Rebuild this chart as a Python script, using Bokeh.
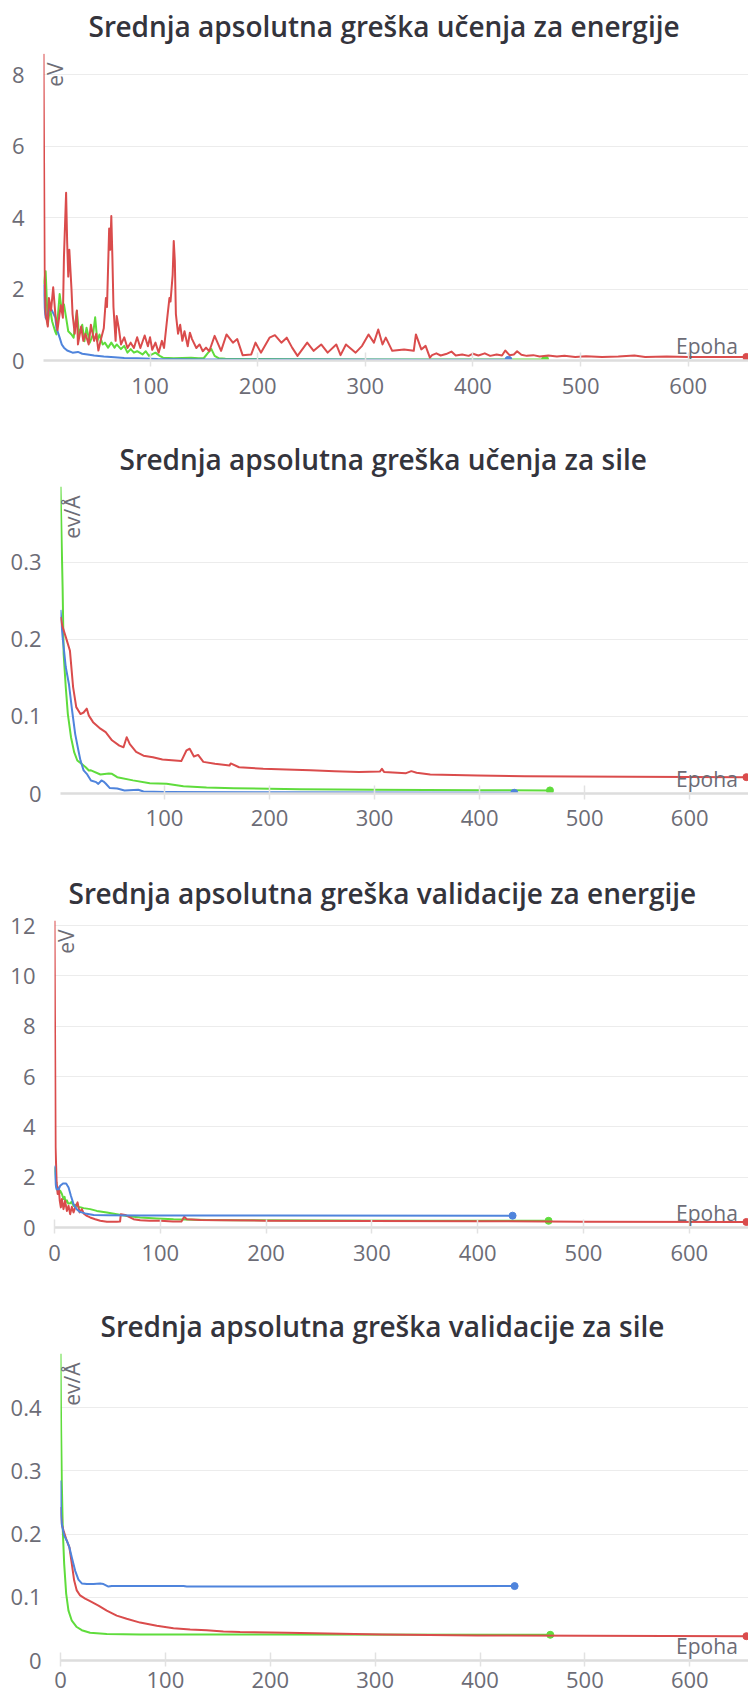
import math
from bokeh.plotting import figure
from bokeh.models import Range1d, FixedTicker, Label
from bokeh.embed import file_html
from bokeh.resources import INLINE

# ---------------- data ----------------
TITLES = [
    "Srednja apsolutna greška učenja za energije",
    "Srednja apsolutna greška učenja za sile",
    "Srednja apsolutna greška validacije za energije",
    "Srednja apsolutna greška validacije za sile",
]
UNITS = ["eV", "ev/Å", "eV", "ev/Å"]
X_TITLE = "Epoha"
X_TICKS = [0, 100, 200, 300, 400, 500, 600]
Y_TICKS_1 = [0, 2, 4, 6, 8]
Y_TICKS_2 = [0, 0.1, 0.2, 0.3]
Y_TICKS_3 = [0, 2, 4, 6, 8, 10, 12]
Y_TICKS_4 = [0, 0.1, 0.2, 0.3, 0.4]
Y_LABELS_1 = ["0", "2", "4", "6", "8"]
Y_LABELS_2 = ["0", "0.1", "0.2", "0.3"]
Y_LABELS_3 = ["0", "2", "4", "6", "8", "10", "12"]
Y_LABELS_4 = ["0", "0.1", "0.2", "0.3", "0.4"]

# chart 1: training energy MAE
c1_red_x = [1, 2, 3, 5, 6, 8, 10, 12, 14, 17, 19, 20, 22, 23, 24, 25, 27, 28, 30, 32, 33, 36, 38, 40, 43, 45, 48, 50, 52, 54,
            57, 59, 60, 62, 63, 64, 65, 66, 68, 69, 71, 73, 76, 79, 82, 85, 88, 91, 95, 98, 100, 102, 105, 108, 111, 113,
            116, 118, 119, 121, 122, 123, 124, 126, 128, 130, 132, 135, 137, 139, 143, 146, 149, 152, 155, 160, 166, 171,
            177, 181, 186, 194, 198, 203, 211, 216, 222, 227, 232, 237, 246, 252, 259, 265, 273, 277, 282, 291, 297, 303,
            308, 312, 316, 319, 325, 336, 345, 347, 352, 356, 360, 362, 366, 370, 375, 380, 384, 390, 396, 400, 405, 411,
            416, 422, 427, 430, 434, 438, 441, 445, 450, 456, 462, 470, 478, 485, 495, 505, 520, 535, 550, 560, 580, 600,
            620, 640, 654]
c1_red_y = [8.59, 2.5, 1.3, 0.95, 1.75, 1.4, 2.05, 1.3, 0.85, 1.55, 1.2, 2.9, 4.7, 3.3, 2.35, 3.1, 2.0, 1.3, 0.75, 1.4,
            0.45, 0.95, 0.55, 0.75, 0.45, 1.0, 0.55, 0.75, 0.28, 0.55, 0.9, 1.75, 1.5, 3.7, 3.1, 4.05, 2.9, 1.5, 0.55,
            1.25, 0.9, 0.45, 0.65, 0.35, 0.5, 0.35, 0.65, 0.35, 0.7, 0.4, 0.65, 0.3, 0.5, 0.22, 0.55, 0.35, 1.2, 1.75,
            1.65, 2.4, 3.35, 2.8, 1.3, 0.75, 1.0, 0.55, 0.82, 0.4, 0.78, 0.6, 0.35, 0.45, 0.26, 0.36, 0.26, 0.69, 0.27,
            0.73, 0.5, 0.6, 0.15, 0.17, 0.5, 0.22, 0.64, 0.71, 0.5, 0.64, 0.36, 0.13, 0.5, 0.27, 0.45, 0.22, 0.45, 0.15,
            0.45, 0.22, 0.41, 0.73, 0.5, 0.87, 0.45, 0.64, 0.27, 0.31, 0.27, 0.73, 0.31, 0.41, 0.08, 0.15, 0.2, 0.14,
            0.18, 0.25, 0.14, 0.17, 0.13, 0.19, 0.14, 0.2, 0.13, 0.17, 0.14, 0.28, 0.15, 0.17, 0.26, 0.16, 0.13, 0.15,
            0.11, 0.14, 0.11, 0.13, 0.1, 0.12, 0.1, 0.11, 0.14, 0.1, 0.11, 0.1, 0.1, 0.1, 0.1]
c1_green_x = [1, 3, 5, 7, 9, 12, 13, 16, 18, 20, 22, 24, 27, 29, 32, 34, 37, 39, 41, 44, 47, 49, 51, 53, 56, 58, 61, 64,
              67, 69, 73, 76, 79, 82, 85, 88, 93, 96, 99, 105, 109, 112, 122, 138, 145, 150, 154, 157, 160, 164, 170,
              200, 250, 300, 350, 400, 467]
c1_green_y = [2.14, 2.5, 1.0, 1.48, 1.1, 0.8, 0.73, 1.86, 1.4, 1.57, 1.2, 0.82, 0.73, 0.64, 1.39, 0.73, 1.0, 0.54, 0.92,
              0.5, 0.73, 1.21, 0.54, 0.73, 0.45, 0.5, 0.36, 0.5, 0.36, 0.45, 0.32, 0.41, 0.22, 0.32, 0.22, 0.26, 0.17,
              0.26, 0.13, 0.22, 0.13, 0.08, 0.06, 0.08, 0.06, 0.07, 0.22, 0.32, 0.13, 0.06, 0.05, 0.04, 0.035, 0.03,
              0.03, 0.03, 0.03]
c1_blue_x = [1, 2, 3, 4, 5, 7, 9, 12, 13, 16, 18, 20, 23, 28, 33, 37, 42, 48, 57, 67, 76, 88, 107, 150, 250, 350, 433]
c1_blue_y = [2.14, 1.48, 1.2, 1.15, 1.34, 1.48, 1.39, 1.2, 0.92, 0.64, 0.45, 0.36, 0.28, 0.22, 0.24, 0.19, 0.17, 0.14,
             0.11, 0.09, 0.07, 0.06, 0.04, 0.03, 0.025, 0.02, 0.02]

# chart 2: training forces MAE
c2_red_x = [1, 3, 6, 10, 13, 16, 20, 23, 26, 28, 32, 39, 44, 50, 57, 61, 64, 67, 73, 80, 89, 98, 107, 116, 121, 124,
            128, 132, 137, 148, 162, 163, 171, 194, 216, 239, 262, 285, 305, 307, 309, 330, 335, 340, 353, 398, 443,
            489, 654]
c2_red_y = [0.229, 0.216, 0.203, 0.185, 0.138, 0.112, 0.103, 0.105, 0.110, 0.101, 0.0925, 0.084, 0.0795, 0.069, 0.062,
            0.060, 0.073, 0.064, 0.054, 0.049, 0.047, 0.044, 0.043, 0.042, 0.056, 0.058, 0.048, 0.050, 0.041, 0.0385,
            0.0363, 0.039, 0.034, 0.032, 0.031, 0.030, 0.029, 0.028, 0.0285, 0.032, 0.028, 0.0264, 0.029, 0.027,
            0.0246, 0.0233, 0.0225, 0.022, 0.0212]
c2_green_x = [1, 3, 4, 6, 8, 11, 14, 17, 21, 25, 28, 30, 39, 47, 50, 55, 70, 86, 102, 118, 140, 166, 229, 299, 400, 467]
c2_green_y = [0.398, 0.268, 0.181, 0.138, 0.103, 0.073, 0.0536, 0.0428, 0.0385, 0.0341, 0.0298, 0.030, 0.0246, 0.026,
              0.0255, 0.0212, 0.017, 0.0134, 0.0125, 0.0095, 0.0078, 0.0069, 0.0056, 0.0047, 0.0042, 0.004]
c2_blue_x = [1, 3, 6, 9, 12, 15, 18, 20, 23, 26, 30, 35, 37, 40, 42, 44, 48, 55, 62, 75, 80, 100, 200, 433]
c2_blue_y = [0.238, 0.203, 0.164, 0.142, 0.108, 0.077, 0.056, 0.043, 0.030, 0.0255, 0.0169, 0.0147, 0.0125, 0.0169,
             0.0155, 0.013, 0.007, 0.0065, 0.004, 0.0048, 0.0026, 0.002, 0.0015, 0.001]

# chart 3: validation energy MAE
c3_red_x = [0, 1, 2, 3, 4, 5, 6, 7, 8.5, 10, 11.7, 13.3, 14.8, 16.4, 18, 19.6, 21.8, 23.7, 25.9, 27.5, 30.6, 33.7, 38.5,
            43.2, 49.5, 58.9, 62, 62.7, 66.8, 70, 74.7, 81, 90, 100, 112, 120, 122.6, 125, 138, 160, 200, 300, 400,
            500, 654]
c3_red_y = [12.2, 3.2, 1.8, 1.33, 1.59, 1.06, 0.8, 1.13, 0.73, 1.06, 0.66, 0.86, 0.53, 0.82, 0.6, 0.8, 1.0, 0.6, 0.73,
            0.56, 0.46, 0.4, 0.33, 0.27, 0.23, 0.23, 0.24, 0.53, 0.5, 0.43, 0.33, 0.29, 0.27, 0.27, 0.24, 0.24, 0.43,
            0.33, 0.3, 0.29, 0.27, 0.26, 0.25, 0.23, 0.22]
c3_green_x = [0, 1, 2, 4, 5.4, 7, 8.5, 9.5, 10.5, 11.7, 13, 14.8, 16, 18, 20, 22.7, 25, 27.5, 33.7, 40, 49.5, 58.9, 68.4,
              81, 96.7, 112.5, 144, 175.5, 250, 350, 467]
c3_green_y = [2.4, 2.06, 1.59, 1.33, 1.46, 1.33, 1.13, 1.22, 1.0, 1.08, 0.95, 0.96, 1.02, 0.86, 0.9, 0.82, 0.8, 0.77, 0.73,
              0.66, 0.6, 0.53, 0.46, 0.4, 0.36, 0.33, 0.3, 0.29, 0.28, 0.27, 0.266]
c3_blue_x = [0, 1, 2, 4, 5.4, 8, 11, 13.3, 15.5, 18, 21, 24, 29, 37, 50, 81, 200, 433]
c3_blue_y = [2.46, 1.72, 1.52, 1.52, 1.66, 1.75, 1.75, 1.59, 1.26, 0.93, 0.73, 0.62, 0.56, 0.5, 0.49, 0.48, 0.475, 0.47]

# chart 4: validation forces MAE
c4_red_x = [0, 1.2, 2.8, 5.9, 8.5, 10.8, 13, 15.5, 18.7, 23.5, 28.2, 36.2, 44.1, 53.6, 63.1, 75.9, 91.8, 107.7, 123.6,
            139.4, 155.3, 171.2, 215.5, 306.6, 397.7, 500, 654]
c4_red_y = [0.243, 0.216, 0.206, 0.19, 0.179, 0.153, 0.127, 0.111, 0.103, 0.098, 0.094, 0.087, 0.079, 0.071, 0.066, 0.06,
            0.055, 0.051, 0.049, 0.048, 0.046, 0.045, 0.044, 0.041, 0.0396, 0.039, 0.0385]
c4_green_x = [0, 0.6, 1.2, 2.2, 3.5, 5.4, 7.6, 10.8, 15.5, 20.3, 28.2, 44.1, 75.9, 190, 467]
c4_green_y = [0.486, 0.364, 0.285, 0.206, 0.153, 0.106, 0.079, 0.063, 0.053, 0.048, 0.044, 0.042, 0.041, 0.041, 0.0407]
c4_blue_x = [0, 0.6, 1.2, 3.5, 5.9, 8.5, 10.8, 14, 17.1, 20.3, 25.1, 31.5, 37.8, 41, 45.7, 48.9, 75.9, 117.3, 120.4, 190,
             433]
c4_blue_y = [0.285, 0.227, 0.216, 0.198, 0.19, 0.179, 0.163, 0.142, 0.128, 0.122, 0.121, 0.121, 0.122, 0.121, 0.117,
             0.118, 0.118, 0.118, 0.117, 0.117, 0.1178]

# ---------------- style ----------------
FONT = "Open Sans"
TITLE_FONT = "Open Sans SemiBold, Open Sans"
TICK_COLOR = "#6c6c76"
TITLE_COLOR = "#34343c"
RED = "#da4c4c"
GREEN = "#5fdc3c"
BLUE = "#4f84dc"
X_END = 656
FIG_W = 748


def make_chart(title, unit, height, top, bottom, left, x_start, y_end, y_ticks, y_labels, series, x_standoff,
               title_left):
    p = figure(width=FIG_W, height=height, output_backend="svg", toolbar_location=None,
               x_range=Range1d(x_start, X_END), y_range=Range1d(0, y_end),
               min_border_top=top, min_border_bottom=bottom, min_border_left=left, min_border_right=0,
               background_fill_color="white", border_fill_color="white")
    p.outline_line_color = None

    p.title.text = title
    p.title.align = "left"
    p.title.offset = title_left - left
    p.title.vertical_align = "top"
    p.title.standoff = 13
    p.title.text_font = TITLE_FONT
    p.title.text_font_size = "28px"
    p.title.text_font_style = "bold"
    p.title.text_color = TITLE_COLOR

    p.xaxis.ticker = FixedTicker(ticks=X_TICKS)
    p.xaxis.axis_line_color = "#dddddd"
    p.xaxis.axis_line_width = 2.5
    p.xaxis.major_tick_line_color = "#e2e2e2"
    p.xaxis.major_tick_line_width = 1.5
    p.xaxis.major_tick_in = 8
    p.xaxis.major_tick_out = 6
    p.xaxis.minor_tick_line_color = None
    p.xaxis.major_label_standoff = x_standoff
    p.xaxis.major_label_text_font = FONT
    p.xaxis.major_label_text_font_size = "22px"
    p.xaxis.major_label_text_color = TICK_COLOR

    p.yaxis.ticker = FixedTicker(ticks=y_ticks)
    p.yaxis.major_label_overrides = {tk: s for tk, s in zip(y_ticks, y_labels)}
    p.yaxis.axis_line_color = None
    p.yaxis.major_tick_line_color = None
    p.yaxis.minor_tick_line_color = None
    p.yaxis.major_tick_out = 0
    p.yaxis.major_tick_in = 0
    p.yaxis.major_label_standoff = 19
    p.yaxis.major_label_text_font = FONT
    p.yaxis.major_label_text_font_size = "22px"
    p.yaxis.major_label_text_color = TICK_COLOR

    p.xgrid.visible = False
    p.ygrid.ticker = FixedTicker(ticks=y_ticks)
    p.ygrid.grid_line_color = "#ececec"
    p.ygrid.grid_line_width = 1

    for xs, ys, col in series:
        p.line(xs, ys, line_color=col, line_width=2, line_join="round")
        p.scatter([xs[-1]], [ys[-1]], size=7, fill_color=col, line_color=col)

    p.add_layout(Label(x=X_END, y=0, x_offset=-10.7, y_offset=14.5, text=X_TITLE, text_align="right",
                       text_baseline="alphabetic", text_font=FONT, text_font_size="21px",
                       text_color=TICK_COLOR))
    p.add_layout(Label(x=x_start, y=y_end, x_offset=-3, y_offset=-9, text=unit, angle=math.pi / 2,
                       text_align="right", text_baseline="top", text_font=FONT, text_font_size="21px",
                       text_color=TICK_COLOR))
    return p


p1 = make_chart(TITLES[0], UNITS[0], 420, 53, 60, 43, 1, 8.6, Y_TICKS_1, Y_LABELS_1,
                [(c1_green_x, c1_green_y, GREEN), (c1_blue_x, c1_blue_y, BLUE), (c1_red_x, c1_red_y, RED)], 11, 88)
p2 = make_chart(TITLES[1], UNITS[1], 430, 66, 57, 60, 1, 0.398, Y_TICKS_2, Y_LABELS_2,
                [(c2_green_x, c2_green_y, GREEN), (c2_blue_x, c2_blue_y, BLUE), (c2_red_x, c2_red_y, RED)], 10, 119)
p3 = make_chart(TITLES[2], UNITS[2], 430, 70, 53, 54, 0, 12.2, Y_TICKS_3, Y_LABELS_3,
                [(c3_green_x, c3_green_y, GREEN), (c3_red_x, c3_red_y, RED), (c3_blue_x, c3_blue_y, BLUE)], 11, 68)
p4 = make_chart(TITLES[3], UNITS[3], 417, 73, 37, 60, 0, 0.486, Y_TICKS_4, Y_LABELS_4,
                [(c4_green_x, c4_green_y, GREEN), (c4_red_x, c4_red_y, RED), (c4_blue_x, c4_blue_y, BLUE)], 5, 100)

# separate roots, stacked, so that each plot keeps its own frame position
open("out.html", "w").write(file_html([p1, p2, p3, p4], INLINE))
